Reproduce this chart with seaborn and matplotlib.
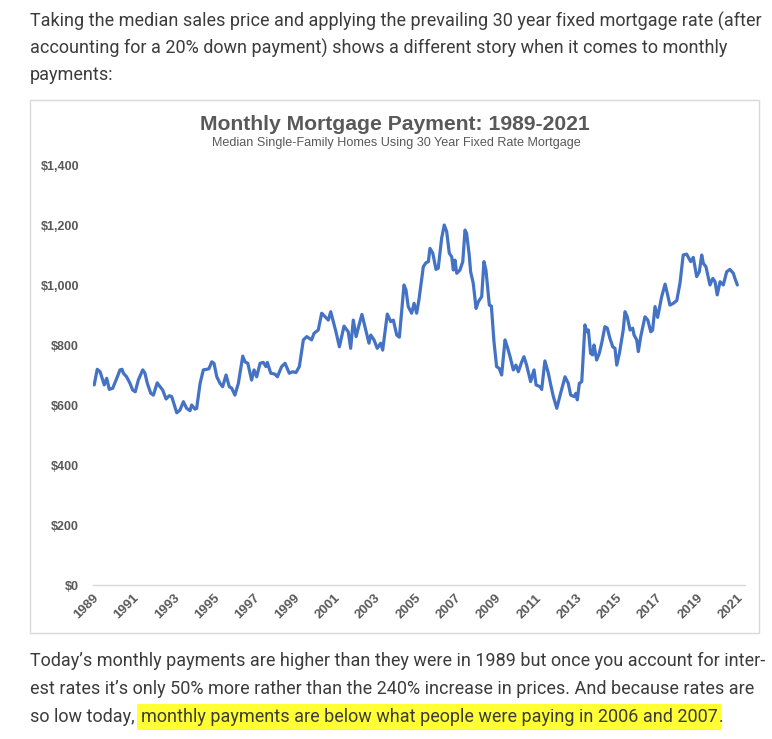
import matplotlib
matplotlib.use("Agg")
import matplotlib.pyplot as plt
import matplotlib.transforms as mtransforms
import seaborn as sns
import pandas as pd
from matplotlib.patches import Rectangle

# monthly mortgage payment (decimal year, dollars)
years = [1989.06, 1989.21, 1989.35, 1989.56, 1989.68, 1989.81, 1989.98, 1990.21, 1990.34, 1990.44,
         1990.51, 1990.67, 1990.84, 1990.97, 1991.10, 1991.25, 1991.47, 1991.58, 1991.70, 1991.87,
         1992.00, 1992.19, 1992.33, 1992.46, 1992.63, 1992.79, 1992.91, 1993.16, 1993.32, 1993.49,
         1993.65, 1993.82, 1993.90, 1994.07, 1994.15, 1994.32, 1994.48, 1994.65, 1994.76, 1994.90,
         1995.01, 1995.15, 1995.31, 1995.44, 1995.61, 1995.77, 1995.89, 1996.05, 1996.22, 1996.44,
         1996.55, 1996.69, 1996.88, 1997.00, 1997.13, 1997.30, 1997.46, 1997.59, 1997.66, 1997.83,
         1998.04, 1998.16, 1998.37, 1998.54, 1998.75, 1998.92, 1999.08, 1999.25, 1999.45, 1999.62,
         1999.86, 1999.98, 2000.19, 2000.36, 2000.53, 2000.69, 2000.81, 2000.94, 2001.07, 2001.24,
         2001.47, 2001.68, 2001.80, 2001.93, 2002.07, 2002.23, 2002.36, 2002.53, 2002.71, 2002.80,
         2002.96, 2003.12, 2003.29, 2003.39, 2003.62, 2003.79, 2003.92, 2004.09, 2004.22, 2004.45,
         2004.55, 2004.66, 2004.83, 2004.95, 2005.08, 2005.19, 2005.41, 2005.54, 2005.66, 2005.74,
         2005.88, 2006.04, 2006.15, 2006.32, 2006.45, 2006.57, 2006.70, 2006.82, 2006.90, 2006.98,
         2007.07, 2007.23, 2007.37, 2007.48, 2007.56, 2007.69, 2007.76, 2007.89, 2008.03, 2008.14,
         2008.31, 2008.42, 2008.52, 2008.69, 2008.79, 2008.92, 2009.05, 2009.18, 2009.30, 2009.47,
         2009.58, 2009.72, 2009.88, 2010.01, 2010.13, 2010.30, 2010.41, 2010.54, 2010.74, 2010.91,
         2011.01, 2011.21, 2011.29, 2011.45, 2011.62, 2011.74, 2011.87, 2012.04, 2012.23, 2012.45,
         2012.61, 2012.73, 2012.90, 2012.99, 2013.06, 2013.16, 2013.28, 2013.44, 2013.53, 2013.61,
         2013.72, 2013.82, 2013.89, 2014.02, 2014.15, 2014.27, 2014.43, 2014.55, 2014.68, 2014.82,
         2014.93, 2015.02, 2015.15, 2015.34, 2015.43, 2015.54, 2015.68, 2015.81, 2015.88, 2016.01,
         2016.09, 2016.21, 2016.42, 2016.56, 2016.71, 2016.80, 2016.92, 2017.05, 2017.25, 2017.42,
         2017.53, 2017.66, 2017.83, 2018.00, 2018.16, 2018.32, 2018.49, 2018.69, 2018.82, 2018.99,
         2019.12, 2019.24, 2019.32, 2019.45, 2019.65, 2019.79, 2019.90, 2020.01, 2020.15, 2020.31,
         2020.48, 2020.64, 2020.81, 2020.89, 2021.01]
payments = [667, 719, 711, 667, 689, 652, 656, 694, 717, 719,
            706, 694, 672, 650, 644, 683, 717, 706, 672, 639,
            633, 674, 661, 650, 620, 631, 628, 574, 583, 611,
            589, 581, 600, 586, 589, 672, 717, 719, 721, 744,
            739, 694, 672, 661, 700, 661, 656, 633, 672, 763,
            744, 739, 683, 717, 694, 739, 742, 728, 742, 706,
            703, 694, 728, 739, 706, 711, 708, 728, 817, 828,
            817, 839, 850, 906, 894, 883, 911, 878, 844, 794,
            863, 844, 789, 883, 828, 870, 902, 856, 806, 833,
            817, 789, 806, 783, 903, 878, 883, 833, 826, 1000,
            983, 928, 906, 939, 906, 950, 1061, 1074, 1078, 1122,
            1106, 1052, 1056, 1156, 1200, 1178, 1106, 1094, 1050, 1083,
            1039, 1050, 1078, 1183, 1172, 1100, 1044, 1006, 922, 944,
            961, 1078, 1050, 933, 930, 811, 728, 722, 700, 817,
            794, 761, 717, 733, 711, 744, 761, 733, 678, 717,
            667, 661, 652, 747, 706, 667, 628, 589, 639, 694,
            672, 633, 628, 639, 617, 672, 678, 867, 844, 850,
            772, 767, 800, 750, 772, 806, 861, 856, 822, 794,
            789, 733, 772, 850, 911, 894, 850, 856, 833, 817,
            778, 828, 894, 883, 844, 850, 928, 892, 961, 1003,
            972, 933, 939, 948, 1006, 1100, 1103, 1078, 1092, 1028,
            1044, 1100, 1072, 1061, 1000, 1022, 1011, 967, 1011, 1000,
            1044, 1052, 1039, 1022, 1000]

x_ticks = list(range(1989, 2022, 2))
y_ticks = [0, 200, 400, 600, 800, 1000, 1200, 1400]
y_labels = ['$0', '$200', '$400', '$600', '$800', '$1,000', '$1,200', '$1,400']

title = 'Monthly Mortgage Payment: 1989-2021'
subtitle = 'Median Single-Family Homes Using 30 Year Fixed Rate Mortgage'

intro_lines = ['Taking the median sales price and applying the prevailing 30 year fixed mortgage rate (after',
               'accounting for a 20% down payment) shows a different story when it comes to monthly',
               'payments:']
outro_lines = ['Today\u2019s monthly payments are higher than they were in 1989 but once you account for inter-',
               'est rates it\u2019s only 50% more rather than the 240% increase in prices. And because rates are']
outro_start = 'so low today,'
outro_highlight = 'monthly payments are below what people were paying in 2006 and 2007'

sns.set_style("white")
plt.rcParams['font.family'] = ['Liberation Sans', 'DejaVu Sans']

W, H = 772, 739
fig = plt.figure(figsize=(W / 100, H / 100), dpi=100)

def fy(py):
    return 1 - py / H

# chart frame
fig.patches.append(Rectangle((30 / W, fy(633)), 729 / W, 533 / H, transform=fig.transFigure,
                             fill=False, edgecolor='#d9d9d9', linewidth=1))

ax = fig.add_axes([93 / W, fy(585), 652 / W, 420 / H])
df = pd.DataFrame({'year': years, 'payment': payments})
sns.lineplot(data=df, x='year', y='payment', ax=ax, color='#4472C4', linewidth=2.3)
ax.set_xlim(1989, 2021.39)
ax.set_ylim(0, 1400)
ax.set_xlabel('')
ax.set_ylabel('')
for s in ['left', 'right', 'top']:
    ax.spines[s].set_visible(False)
ax.spines['bottom'].set_color('#d9d9d9')
ax.spines['bottom'].set_linewidth(1)
ax.set_yticks(y_ticks)
ax.set_yticklabels(y_labels, fontsize=9, fontweight='bold', color='#595959')
ax.set_xticks(x_ticks)
ax.set_xticklabels([str(y) for y in x_ticks], rotation=45, ha='right', va='center',
                   rotation_mode='anchor', fontsize=9.5, fontweight='bold', color='#595959')
ax.tick_params(axis='y', length=0, pad=10)
ax.tick_params(axis='x', length=0, pad=8)
# nudge the rotated year labels a little to the right, like the original
shift = mtransforms.ScaledTranslation(4 / 100, 0, fig.dpi_scale_trans)
for lab in ax.get_xticklabels():
    lab.set_transform(lab.get_transform() + shift)
ax.patch.set_alpha(0)

fig.text(395 / W, fy(124), title, ha='center', va='center', fontsize=15.2, fontweight='bold', color='#595959')
fig.text(396 / W, fy(143), subtitle, ha='center', va='center', fontsize=9.1, color='#595959')

body = dict(fontsize=13.0, color='#3c3c3c', family=['Roboto', 'DejaVu Sans'], va='center')
for i, line in enumerate(intro_lines):
    fig.text(30 / W, fy(21 + 27 * i), line, **body)
for i, line in enumerate(outro_lines):
    fig.text(30 / W, fy(661 + 28 * i), line, **body)

r = fig.canvas.get_renderer()
t0 = fig.text(30 / W, fy(717), outro_start, **body)
x_end = t0.get_window_extent(renderer=r).x1
t1 = fig.text((x_end + 6) / W, fy(717), outro_highlight, **body,
              bbox=dict(facecolor='#ffff33', edgecolor='none', boxstyle='square,pad=0.2'))
x_end2 = t1.get_window_extent(renderer=r).x1
fig.text((x_end2 + 1) / W, fy(717), '.', **body)

fig.savefig('out.png', dpi=100)
